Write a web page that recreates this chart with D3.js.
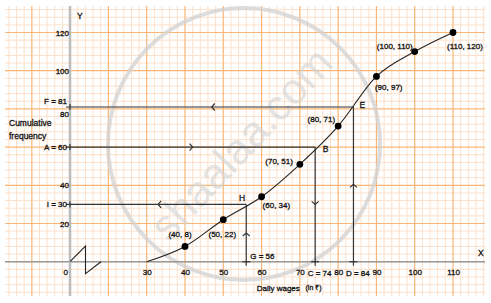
<!DOCTYPE html>
<html>
<head>
<meta charset="utf-8">
<script src="https://cdn.jsdelivr.net/npm/d3@7"></script>
<style>
    body { margin: 0; background: #fff; }
    text { font-family: "Liberation Sans", Arial, sans-serif; }
    .ink { fill: #111; stroke: #111; stroke-width: 0.3px; }
</style>
</head>
<body>
<div id="vis"></div>
<script>
const width = 491
const height = 303

// ogive data
const wages = [30, 40, 50, 60, 70, 80, 90, 100, 110]
const cumFreq = [0, 8, 22, 34, 51, 71, 97, 110, 120]

// reading lines: y value read on axis, x value found on the curve
const yNames = ["I", "A", "F"]
const yReads = [30, 60, 81]
const xNames = ["G", "C", "D"]
const xReads = [56, 74, 84]
const curveNames = ["H", "B", "E"]

const xTicks = [30, 40, 50, 60, 70, 80, 90, 100, 110]
const yTicks = [20, 40, 80, 100, 120]

const svg = d3.select("#vis")
    .append("svg")
    .attr("width", width)
    .attr("height", height)

// x axis is broken between 0 and 30
const xScale = d3.scaleLinear([0, 30, 110], [70, 146.7, 453])
const yScale = d3.scaleLinear([0, 120], [261.7, 32.5])
// same spacing as xScale past the break, used for the paper grid
const xPaper = d3.scaleLinear([30, 110], [146.7, 453])

const gridLeft = 5, gridRight = 485, gridTop = 6, gridBottom = 296

const grid = svg.append("g")
const xGrid = d3.range(-16, 126, 2).filter(v => xPaper(v) >= gridLeft && xPaper(v) <= gridRight)
const yGrid = d3.range(-20, 140, 4).filter(v => yScale(v) >= gridTop && yScale(v) <= gridBottom)

grid.selectAll("line.minor-x")
    .data(xGrid.filter(v => v % 10 != 0))
    .join("line")
        .attr("x1", d => xPaper(d)).attr("x2", d => xPaper(d))
        .attr("y1", gridTop).attr("y2", gridBottom)
        .attr("stroke", "#fde0c9")
grid.selectAll("line.minor-y")
    .data(yGrid.filter(v => v % 20 != 0))
    .join("line")
        .attr("y1", d => yScale(d)).attr("y2", d => yScale(d))
        .attr("x1", gridLeft).attr("x2", gridRight)
        .attr("stroke", "#fde0c9")
grid.selectAll("line.major-x")
    .data(xGrid.filter(v => v % 10 == 0))
    .join("line")
        .attr("x1", d => xPaper(d)).attr("x2", d => xPaper(d))
        .attr("y1", gridTop).attr("y2", gridBottom)
        .attr("stroke", "#f9b677")
        .attr("stroke-width", 1.2)
grid.selectAll("line.major-y")
    .data(yGrid.filter(v => v % 20 == 0))
    .join("line")
        .attr("y1", d => yScale(d)).attr("y2", d => yScale(d))
        .attr("x1", gridLeft).attr("x2", gridRight)
        .attr("stroke", "#f9b677")
        .attr("stroke-width", 1.2)

// watermark
svg.append("circle")
    .attr("cx", 244).attr("cy", 144).attr("r", 136)
    .attr("fill", "none")
    .attr("stroke", "#d2d2d2")
    .attr("stroke-opacity", 0.75)
    .attr("stroke-width", 4)
svg.append("text")
    .attr("transform", "translate(252, 154) rotate(-47)")
    .attr("text-anchor", "middle")
    .attr("font-size", 43)
    .attr("fill", "#d4d4d4")
    .attr("fill-opacity", 0.65)
    .text("shaalaa.com")

// axis lines
svg.append("line")
    .attr("x1", gridLeft).attr("x2", gridRight)
    .attr("y1", yScale(0)).attr("y2", yScale(0))
    .attr("stroke", "#999").attr("stroke-width", 1.4)
svg.append("line")
    .attr("x1", xScale(0)).attr("x2", xScale(0))
    .attr("y1", gridTop).attr("y2", gridBottom)
    .attr("stroke", "#bbb").attr("stroke-width", 2.5)

// break symbol
const x0 = xScale(0), y0 = yScale(0)
svg.append("path")
    .attr("d", `M${x0},${y0} L${x0 + 15.5},${y0 - 15.5} L${x0 + 15.5},${y0 + 12} L${x0 + 31},${y0}`)
    .attr("fill", "none")
    .attr("stroke", "#222")
    .attr("stroke-width", 1.1)

// tick labels
const axisB = d3.axisBottom(xScale).tickValues(xTicks).tickSize(0).tickPadding(8)
const axisL = d3.axisLeft(yScale).tickValues(yTicks).tickSize(0).tickPadding(1)

const xAxis = svg.append("g")
    .attr("transform", `translate(0, ${yScale(0)})`)
    .call(axisB)
const yAxis = svg.append("g")
    .attr("transform", `translate(${xScale(0)}, 0)`)
    .call(axisL)
for (const g of [xAxis, yAxis]) {
    g.select(".domain").remove()
    g.selectAll("text")
        .attr("class", "ink")
        .attr("font-size", 8)
        .attr("font-family", "Liberation Sans, Arial, sans-serif")
}
yAxis.selectAll(".tick text").filter(d => d == 80).attr("dy", "1.0em")

svg.append("text")
    .attr("class", "ink")
    .attr("x", 65.8).attr("y", 274.5)
    .attr("text-anchor", "middle")
    .attr("font-size", 8)
    .text("0")

// ogive
const points = wages.map((w, i) => [w, cumFreq[i]])
const line = d3.line()
    .x(d => xScale(d[0]))
    .y(d => yScale(d[1]))
    .curve(d3.curveMonotoneX)

// reading lines
const guide = svg.append("g")
    .attr("stroke", "#333")
    .attr("stroke-width", 1.2)
    .attr("fill", "none")

yReads.forEach((yv, i) => {
    const xv = xReads[i]
    const px = xScale(xv), py = yScale(yv)
    guide.append("line").attr("x1", xScale(0) - 4).attr("x2", px).attr("y1", py).attr("y2", py)
    guide.append("line").attr("x1", px).attr("x2", px).attr("y1", py).attr("y2", yScale(0) + 4)
    guide.append("line").attr("x1", xScale(0)).attr("x2", xScale(0)).attr("y1", py - 3).attr("y2", py + 3)
    guide.append("line").attr("x1", px - 4).attr("x2", px + 4).attr("y1", yScale(0)).attr("y2", yScale(0))

    // chevrons at mid points
    const mx = (xScale(0) + px) / 2
    const my = (py + yScale(0)) / 2
    const left = yNames[i] != "A"
    const hx = left ? 3 : -3
    guide.append("path").attr("d", `M${mx + hx},${py - 3.5} L${mx},${py} L${mx + hx},${py + 3.5}`)
    const up = xNames[i] != "C"
    const vy = up ? 3 : -3
    guide.append("path").attr("d", `M${px - 3.5},${my + vy} L${px},${my} L${px + 3.5},${my + vy}`)
})

svg.append("path")
    .datum(points)
    .attr("d", line)
    .attr("fill", "none")
    .attr("stroke", "#222")
    .attr("stroke-width", 1.1)

svg.selectAll("circle.data-point")
    .data(points.slice(1))
    .join("circle")
        .attr("class", "data-point")
        .attr("cx", d => xScale(d[0]))
        .attr("cy", d => yScale(d[1]))
        .attr("r", 3.4)
        .attr("fill", "#000")

// point labels: [dx, dy, anchor]
const labelPlace = [
    null,
    [-5, -9.4, "middle"],
    [-1, 17, "middle"],
    [1, 11, "start"],
    [-7, 0, "end"],
    [-3, -4, "end"],
    [-1.5, 13.6, "start"],
    [-2, -3, "end"],
    [-6, 16, "start"]
]
svg.selectAll("text.point-label")
    .data(points.filter((d, i) => labelPlace[i]).map(d => ({ d, p: labelPlace[points.indexOf(d)] })))
    .join("text")
        .attr("class", "point-label ink")
        .attr("x", o => xScale(o.d[0]) + o.p[0])
        .attr("y", o => yScale(o.d[1]) + o.p[1])
        .attr("text-anchor", o => o.p[2])
        .attr("font-size", 8)
        .text(o => `(${o.d[0]}, ${o.d[1]})`)

// letters on the curve
const letterPlace = [[-1, -3.7, "end"], [7.5, 5, "start"], [6, 1, "start"]]
svg.selectAll("text.curve-name")
    .data(curveNames)
    .join("text")
        .attr("class", "curve-name ink")
        .attr("x", (d, i) => xScale(xReads[i]) + letterPlace[i][0])
        .attr("y", (d, i) => yScale(yReads[i]) + letterPlace[i][1])
        .attr("text-anchor", (d, i) => letterPlace[i][2])
        .attr("font-size", 8.5)
        .text(d => d)

// y readings on the axis
svg.selectAll("text.y-read")
    .data(yNames)
    .join("text")
        .attr("class", "y-read ink")
        .attr("x", 67)
        .attr("y", (d, i) => yScale(yReads[i]) + (d == "F" ? -2.5 : 3))
        .attr("text-anchor", "end")
        .attr("font-size", 8)
        .text((d, i) => `${d} = ${yReads[i]}`)

// x readings
svg.selectAll("text.x-read")
    .data(xNames)
    .join("text")
        .attr("class", "x-read ink")
        .attr("x", (d, i) => d == "G" ? xScale(xReads[i]) + 4 : xScale(xReads[i]) - 7.5)
        .attr("y", d => d == "G" ? 258.7 : 276)
        .attr("font-size", 8)
        .text((d, i) => `${d} = ${xReads[i]}`)

// axis titles
const titles = [
    [77, 18.7, 8.5, "Y"],
    [478, 255.7, 8.5, "X"],
    [9, 126, 8.5, "Cumulative"],
    [9, 138.7, 8.5, "frequency"],
    [256.7, 291, 8, "Daily wages"],
    [305.5, 289.5, 7, "(in ₹)"]
]
svg.selectAll("text.title")
    .data(titles)
    .join("text")
        .attr("class", "title ink")
        .attr("x", d => d[0])
        .attr("y", d => d[1])
        .attr("font-size", d => d[2])
        .text(d => d[3])
</script>
</body>
</html>
